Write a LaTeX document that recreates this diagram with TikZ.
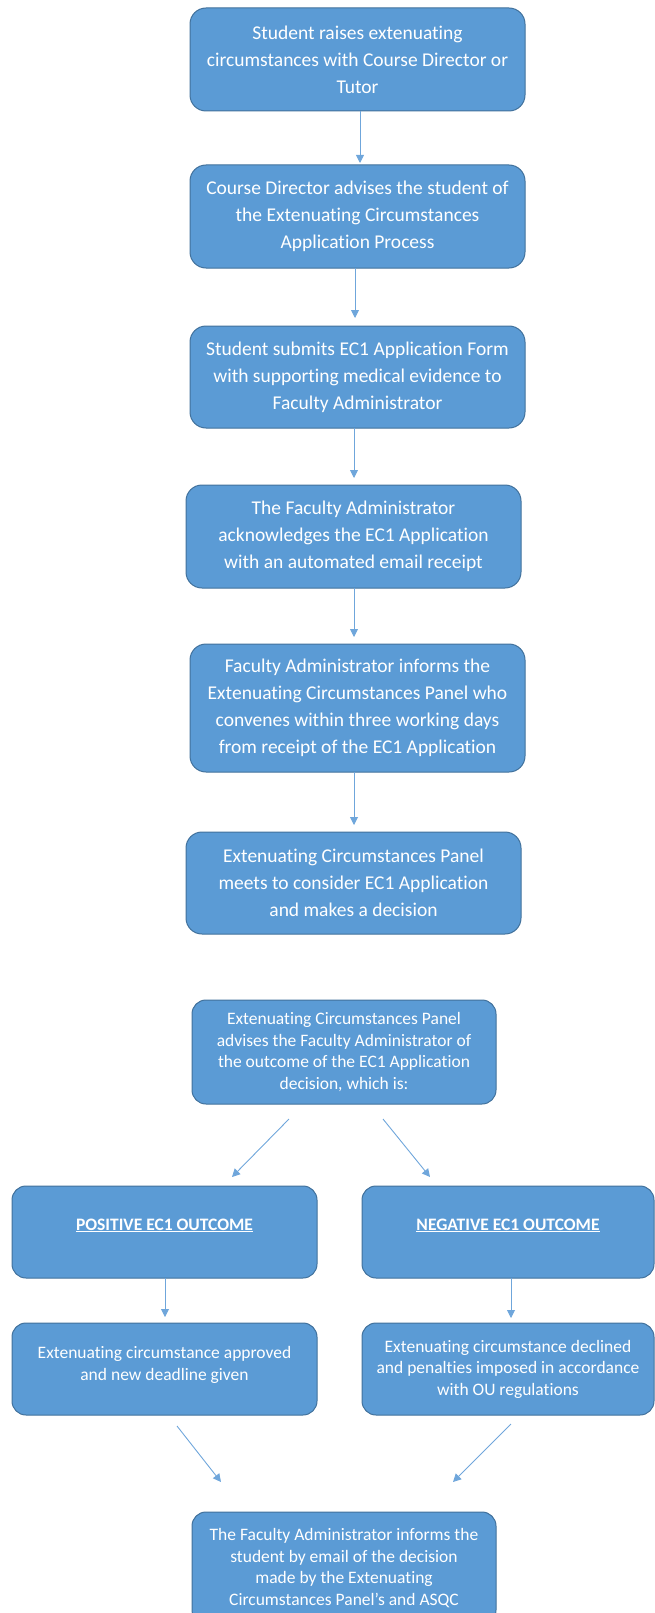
\documentclass[tikz,border=0pt]{standalone}
\usepackage{fontspec}
\setmainfont{Carlito}[Ligatures={NoCommon}]
\usetikzlibrary{arrows.meta}
\definecolor{boxfill}{HTML}{5B9BD5}
\definecolor{boxline}{HTML}{41719C}
\definecolor{arrowcol}{HTML}{6FA6DB}
\tikzset{
  flowbox/.style={draw=boxline, line width=1pt, fill=boxfill, rounded corners=16pt,
    text=white, align=center, inner sep=0pt, font=\fontsize{19.5}{27}\selectfont},
  smallbox/.style={flowbox, rounded corners=14pt, font=\fontsize{17.5}{21.5}\selectfont},
  flowarrow/.style={draw=arrowcol, line width=0.9pt, -{Triangle[width=8pt,length=8pt]}}
}
\begin{document}
\begin{tikzpicture}[x=1pt,y=-1pt]
\useasboundingbox (0,0) rectangle (655,1613);
\clip (0,0) rectangle (655,1613);
% main column
\node[flowbox, minimum width=335pt, minimum height=103pt] (b1) at (357.5,59.5)
  {Student raises extenuating\\circumstances with Course Director or\\Tutor};
\node[flowbox, minimum width=335pt, minimum height=103pt] (b2) at (357.5,216.5)
  {Course Director advises the student of\\the Extenuating Circumstances\\Application Process};
\node[flowbox, minimum width=335pt, minimum height=102pt] (b3) at (357.5,377)
  {Student submits EC1 Application Form\\with supporting medical evidence to\\Faculty Administrator};
\node[flowbox, minimum width=335pt, minimum height=103pt] (b4) at (353.5,536.5)
  {The Faculty Administrator\\acknowledges the EC1 Application\\with an automated email receipt};
\node[flowbox, minimum width=335pt, minimum height=128pt] (b5) at (357.5,708)
  {Faculty Administrator informs the\\Extenuating Circumstances Panel who\\convenes within three working days\\from receipt of the EC1 Application};
\node[flowbox, minimum width=335pt, minimum height=102pt] (b6) at (353.5,883)
  {Extenuating Circumstances Panel\\meets to consider EC1 Application\\and makes a decision};
\node[smallbox, minimum width=304pt, minimum height=104pt] (b7) at (344,1052)
  {Extenuating Circumstances Panel\\advises the Faculty Administrator of\\the outcome of the EC1 Application\\decision, which is:};
% outcomes
\node[smallbox, minimum width=305pt, minimum height=92pt] (pos) at (164.5,1232)
  {\underline{\textbf{POSITIVE EC1 OUTCOME}}\\[-6pt]\mbox{}};
\node[smallbox, minimum width=292pt, minimum height=92pt] (neg) at (508,1232)
  {\underline{\textbf{NEGATIVE EC1 OUTCOME}}\\[-6pt]\mbox{}};
\node[smallbox, minimum width=305pt, minimum height=92pt] (pos2) at (164.5,1369)
  {Extenuating circumstance approved\\and new deadline given\\[-10pt]\mbox{}};
\node[smallbox, minimum width=292pt, minimum height=92pt] (neg2) at (508,1369)
  {Extenuating circumstance declined\\and penalties imposed in accordance\\with OU regulations};
\node[smallbox, minimum width=304pt, minimum height=112pt] (fin) at (344,1568)
  {The Faculty Administrator informs the\\student by email of the decision\\made by the Extenuating\\Circumstances Panel’s and ASQC};
% arrow end points
\coordinate (a1s) at (360,111);  \coordinate (a1e) at (360,163);
\coordinate (a2s) at (355,268);  \coordinate (a2e) at (355,318);
\coordinate (a3s) at (354,428);  \coordinate (a3e) at (354,478);
\coordinate (a4s) at (354,588);  \coordinate (a4e) at (354,637);
\coordinate (a5s) at (354,772);  \coordinate (a5e) at (354,825);
\coordinate (d1s) at (289,1119); \coordinate (d1e) at (232,1177);
\coordinate (d2s) at (383,1119); \coordinate (d2e) at (430,1177);
\coordinate (a6s) at (165,1278); \coordinate (a6e) at (165,1317);
\coordinate (a7s) at (511,1278); \coordinate (a7e) at (511,1318);
\coordinate (d3s) at (177,1426); \coordinate (d3e) at (221,1482);
\coordinate (d4s) at (511,1424); \coordinate (d4e) at (453,1482);
\draw[flowarrow] (a1s) -- (a1e);
\draw[flowarrow] (a2s) -- (a2e);
\draw[flowarrow] (a3s) -- (a3e);
\draw[flowarrow] (a4s) -- (a4e);
\draw[flowarrow] (a5s) -- (a5e);
\draw[flowarrow] (d1s) -- (d1e);
\draw[flowarrow] (d2s) -- (d2e);
\draw[flowarrow] (a6s) -- (a6e);
\draw[flowarrow] (a7s) -- (a7e);
\draw[flowarrow] (d3s) -- (d3e);
\draw[flowarrow] (d4s) -- (d4e);
\end{tikzpicture}
\end{document}
